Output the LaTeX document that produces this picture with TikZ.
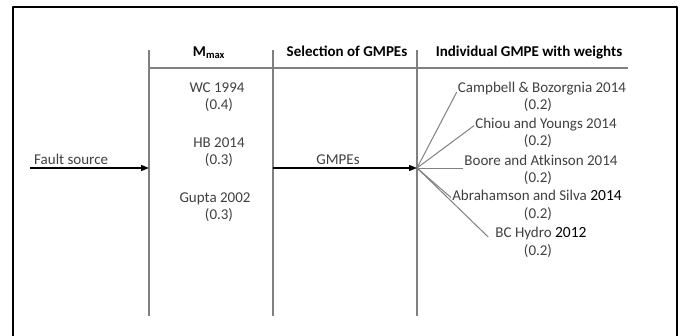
\documentclass[tikz,border=0pt]{standalone}
\usepackage{fontspec}
\setmainfont{Carlito}
\usetikzlibrary{arrows.meta}
\definecolor{txtgray}{RGB}{64,64,64}
\definecolor{rulegray}{RGB}{128,128,128}
\newcommand{\yr}[1]{{\color{black}\fontsize{15.5}{18}\selectfont #1}}
\begin{document}
\begin{tikzpicture}[x=1pt, y=-1pt, line join=round, >={Triangle[length=8pt,width=6pt]},
	every node/.style={font=\fontsize{15}{18}\selectfont, text=txtgray, inner sep=1pt, anchor=base},
	head/.style={font=\fontsize{15}{18}\selectfont\bfseries, text=black},
	rule/.style={draw=rulegray, line width=1.2pt},
	fan/.style={draw=rulegray, line width=1pt},
	arr/.style={->, draw=black, line width=1.3pt}]
	\useasboundingbox (0,0) rectangle (682,335);
	\draw[line width=2pt] (13,345) -- (13,7) -- (677,7) -- (677,345);
	\coordinate (c1t) at (149,50); \coordinate (c1b) at (149,316);
	\coordinate (c2t) at (273,50); \coordinate (c2b) at (273,316);
	\coordinate (c3t) at (417,50); \coordinate (c3b) at (417,316);
	\coordinate (hr) at (628,68);
	\coordinate (hub) at (417,168);
	\coordinate (fsin) at (30,168);
	\draw[rule] (c1t) -- (c1b);
	\draw[rule] (c2t) -- (c2b);
	\draw[rule] (c3t) -- (c3b);
	\draw[rule] (c1t |- hr) -- (hr);
	\node[head] (hmax) at (209,56) {M\textsubscript{max}};
	\node[head] (hsel) at (347,56) {Selection of GMPEs};
	\node[head] (hind) at (529,56) {Individual GMPE with weights};
	\node[anchor=base west] (fs) at (33,164) {Fault source};
	\node (wc) at (217,92) {WC 1994};
	\node (wcw) at (219,109) {(0.4)};
	\node (hb) at (219,147) {HB 2014};
	\node (hbw) at (219,164) {(0.3)};
	\node (gu) at (215,202) {Gupta 2002};
	\node (guw) at (219,219) {(0.3)};
	\node (gm) at (338,164) {GMPEs};
	\node (cb) at (542,92) {Campbell \& Bozorgnia 2014};
	\node (cbw) at (538,109) {(0.2)};
	\node (ch) at (546,128) {Chiou and Youngs 2014};
	\node (chw) at (538,145) {(0.2)};
	\node (ba) at (541,165) {Boore and Atkinson 2014};
	\node (baw) at (538,182) {(0.2)};
	\node (as) at (537,200) {Abrahamson and Silva \yr{2014}};
	\node (asw) at (538,218) {(0.2)};
	\node (bc) at (541,237) {BC Hydro \yr{2012}};
	\node (bcw) at (538,255) {(0.2)};
	\draw[arr] (fsin) -- (fsin -| c1t);
	\draw[arr] (hub -| c2t) -- (hub);
	\draw[fan] (hub) -- (cb.base west);
	\draw[fan] (hub) -- (ch.mid west);
	\draw[fan] (hub) -- (hub -| ba.west);
	\draw[fan] (hub) -- (as.mid west);
	\draw[fan] (hub) -- ([xshift=-6pt]bc.base west);
\end{tikzpicture}
\end{document}
